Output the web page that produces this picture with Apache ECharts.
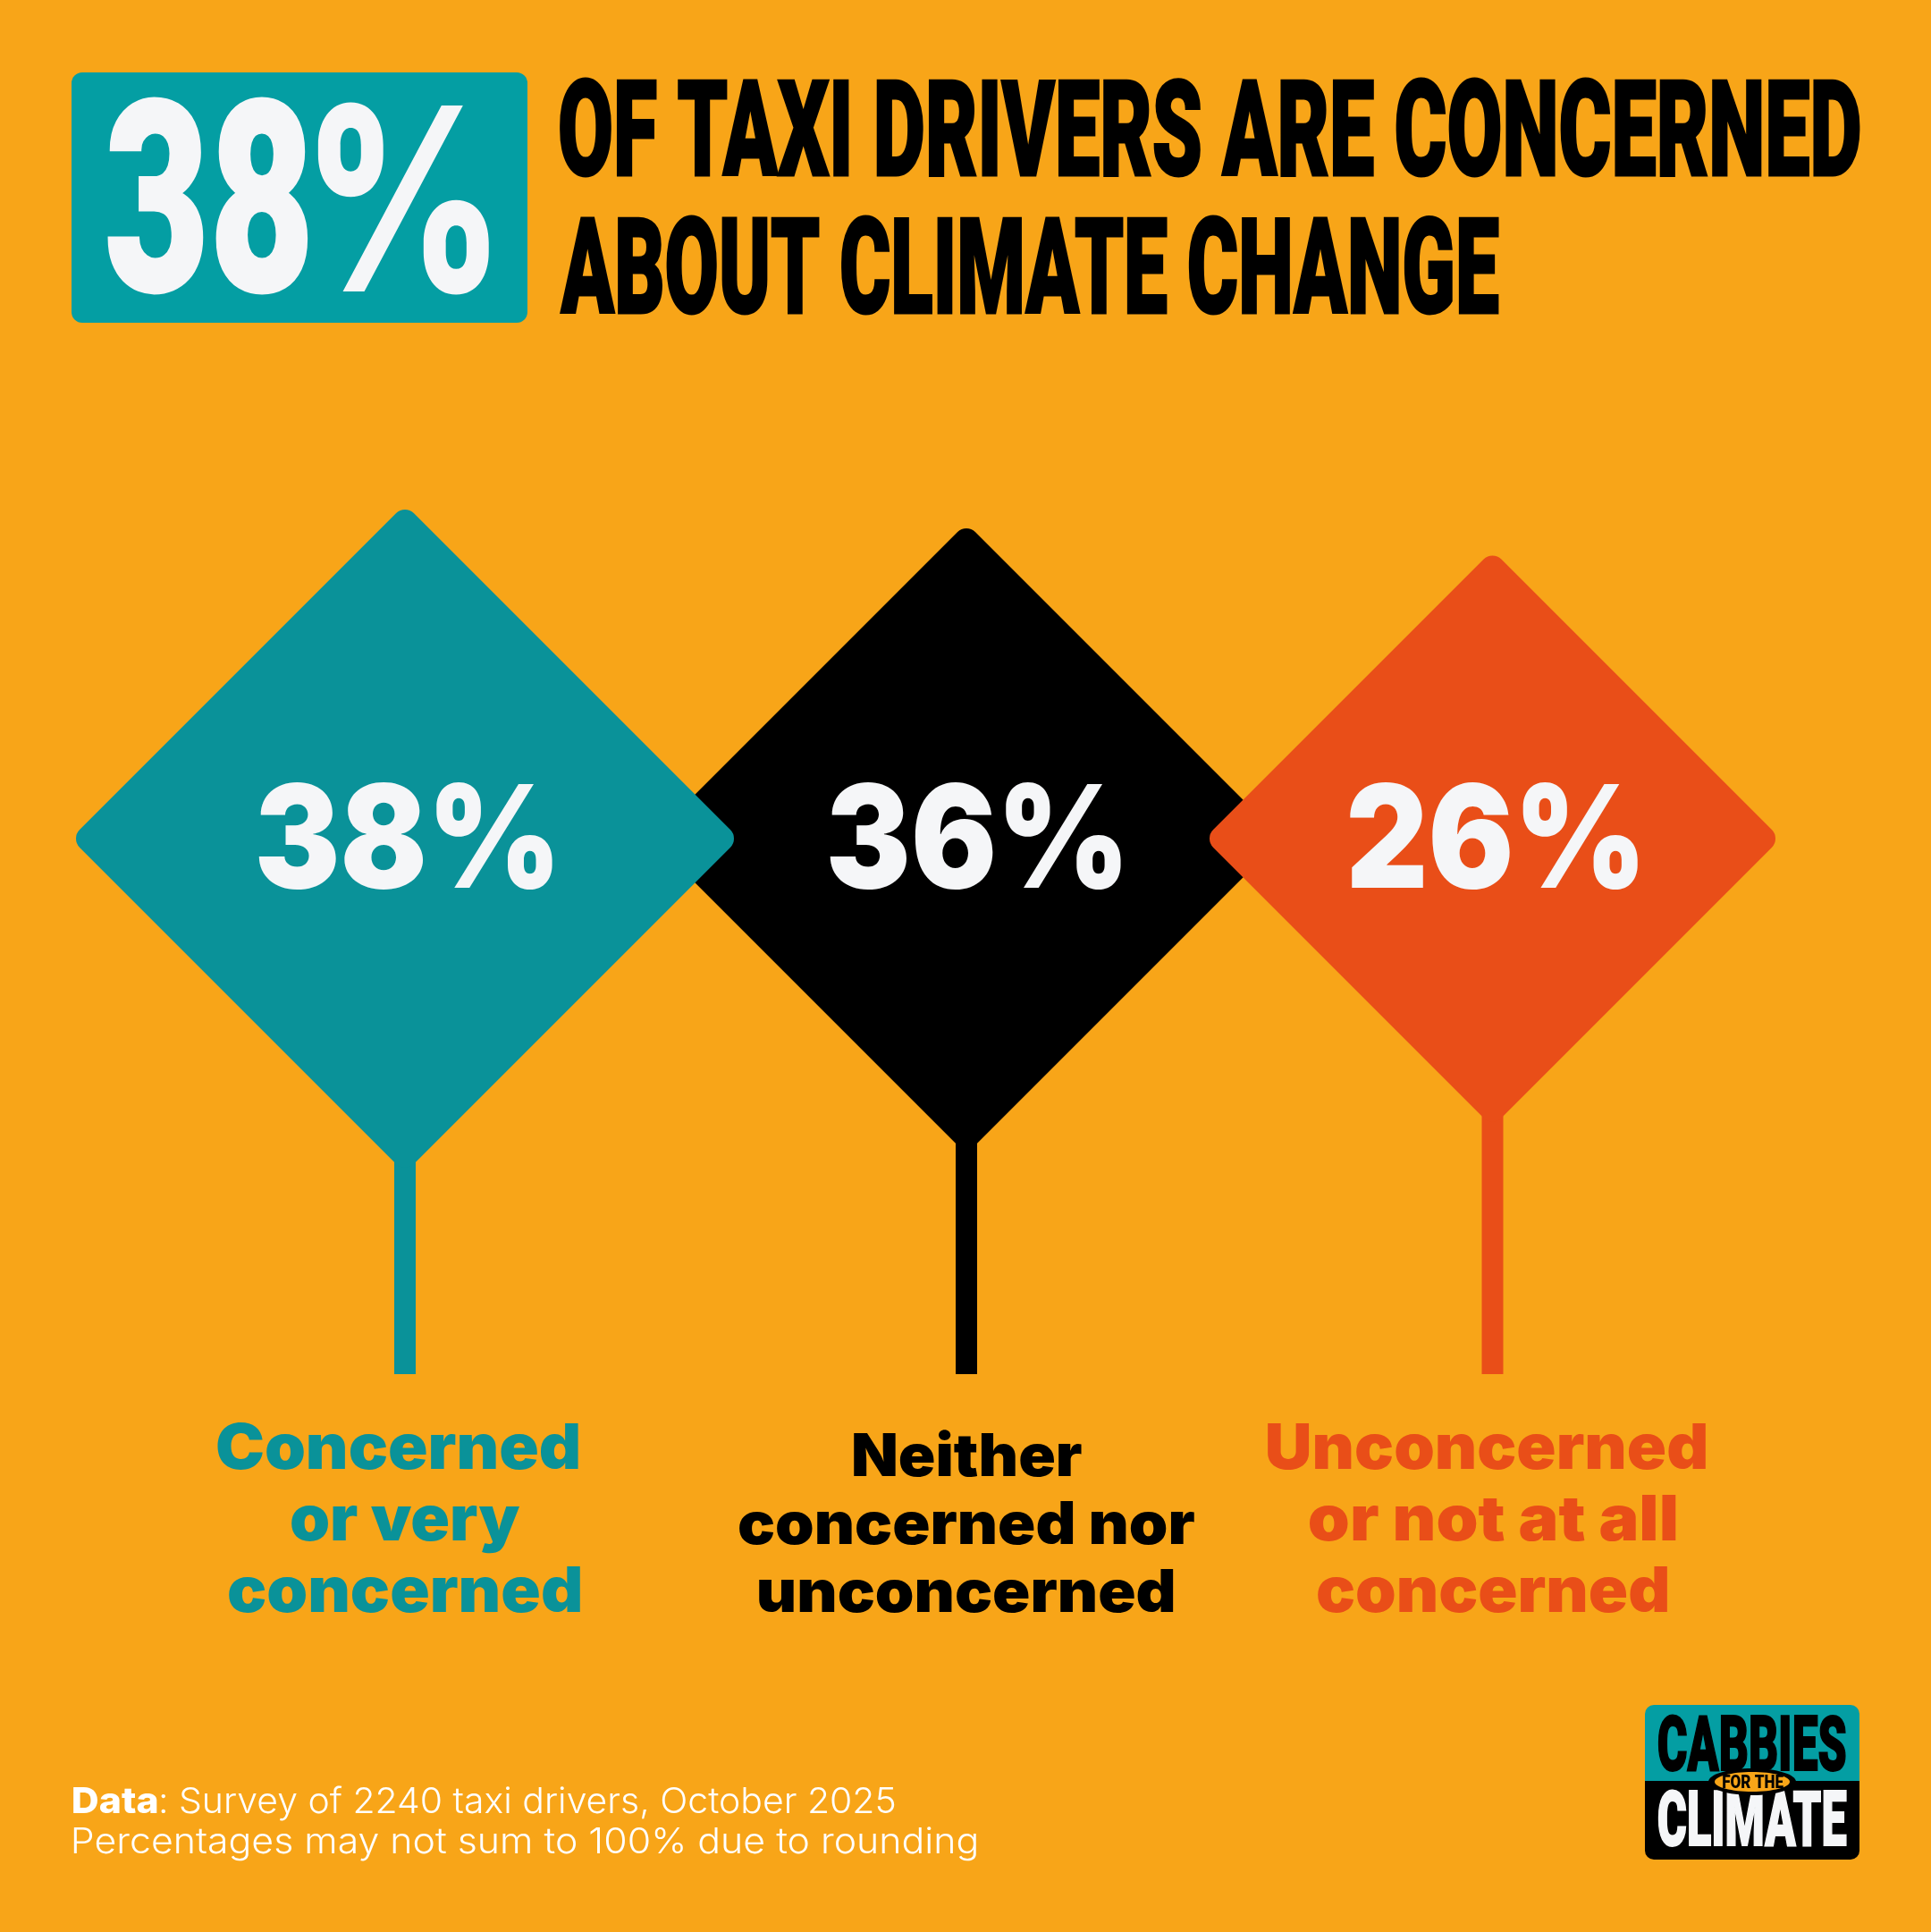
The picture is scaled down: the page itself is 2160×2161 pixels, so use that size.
<!DOCTYPE html>
<html>
<head>
<meta charset="utf-8">
<title>Cabbies for the Climate</title>
<script src="https://cdn.jsdelivr.net/npm/echarts@6/dist/echarts.min.js"></script>
<style>
  html, body { margin: 0; padding: 0; background: #F8A518; }
  #chart { width: 2160px; height: 2161px; }
</style>
</head>
<body>
<div id="chart"></div>
<script>
// data
var categories = ['Concerned or very concerned', 'Neither concerned nor unconcerned', 'Unconcerned or not at all concerned'];
var categoryLines = [
  ['Concerned', 'or very', 'concerned'],
  ['Neither', 'concerned nor', 'unconcerned'],
  ['Unconcerned', 'or not at all', 'concerned']
];
var shares = [38, 36, 26];
var headlineShare = '38';
var titleLines = ['OF TAXI DRIVERS ARE CONCERNED', 'ABOUT CLIMATE CHANGE'];
var sourceLabel = 'Data';
var sourceText = ': Survey of 2240 taxi drivers, October 2025';
var noteText = 'Percentages may not sum to 100% due to rounding';

// colours
var ORANGE_BG = '#F8A518', TEAL_BOX = '#049EA3', WHITE = '#F5F6F8';
var signColors = ['#0A9299', '#000000', '#E94E18'];

// layout of the signs, in pixels
var signReach = [368, 347, 316.5];
var signNudge = [0, 20.5, 1.5];
var signLayer = [3, 1, 3];
var signCorner = 14;
var valueInk = [[289, 618], [928, 1254], [1510, 1832]];
var labelInk = [
  [[243, 647, 1643], [326, 582, 1723], [256, 649, 1803]],
  [[955, 1210, 1651], [826, 1336, 1727], [849, 1313, 1803]],
  [[1418, 1908, 1643], [1465, 1875, 1723], [1474, 1865, 1803]]
];
var DISPLAY_FONT = '900 {s}px Roboto';
var LABEL_FONT = '900 {s}px Inter';

var ruler = document.createElement('canvas').getContext('2d');

// squeeze a text so its ink runs from left to right, on the given baseline
function fitted(text, left, right, baseline, font, fill, strokeWidth) {
  ruler.font = font;
  ruler.textBaseline = 'middle';
  var m = ruler.measureText(text);
  var drop = ruler.measureText('H').actualBoundingBoxDescent;
  var ink = m.actualBoundingBoxLeft + m.actualBoundingBoxRight;
  var sx = (right - left) / ink;
  var style = { text: text, font: font, fill: fill, align: 'left', verticalAlign: 'middle' };
  if (strokeWidth) {
    style.stroke = fill;
    style.lineWidth = strokeWidth;
  }
  return { type: 'text', x: left + m.actualBoundingBoxLeft * sx, y: baseline - drop, scaleX: sx, z2: 10, style: style };
}

function sized(tpl, size) {
  return tpl.replace('{s}', size);
}

function renderSign(params, api) {
  var i = api.value(0);
  var top = api.coord([i, 100]);
  var base = api.coord([i, 0]);
  var cx = top[0] + signNudge[i];
  var cy = top[1];
  var side = (signReach[i] + signCorner * (Math.SQRT2 - 1)) * Math.SQRT2;
  var color = signColors[i];
  var kids = [
    { type: 'rect', z2: signLayer[i] - 1, shape: { x: cx - 12, y: cy, width: 24, height: base[1] - cy }, style: { fill: color } },
    { type: 'rect', z2: signLayer[i], x: cx, y: cy, rotation: Math.PI / 4,
      shape: { x: -side / 2, y: -side / 2, width: side, height: side, r: signCorner }, style: { fill: color } },
    fitted(api.value(1) + '%', valueInk[i][0], valueInk[i][1], 993, sized(LABEL_FONT, 160), WHITE)
  ];
  categoryLines[i].forEach(function (line, n) {
    var pos = labelInk[i][n];
    kids.push(fitted(line, pos[0], pos[1], pos[2], sized(LABEL_FONT, i === 1 ? 66 : 70), color));
  });
  return { type: 'group', children: kids };
}

var graphics = [
  { type: 'rect', shape: { x: 80, y: 81, width: 510, height: 280, r: 12 }, style: { fill: TEAL_BOX } },
  fitted(headlineShare, 120, 345, 325, sized(DISPLAY_FONT, 298), WHITE, 3),
  fitted('%', 355, 548, 326, sized('800 {s}px Inter', 286), WHITE),
  fitted(titleLines[0], 627, 2080, 196, sized(DISPLAY_FONT, 149), '#000', 3),
  fitted(titleLines[1], 627, 1676, 350, sized(DISPLAY_FONT, 149), '#000', 3),
  fitted(sourceLabel, 82, 176, 2028, sized('800 {s}px Inter', 40), '#FFFFFF'),
  fitted(sourceText, 180, 1001, 2028, sized('300 {s}px Inter', 40), '#FFFFFF'),
  fitted(noteText, 82, 1092, 2073, sized('300 {s}px Inter', 40), '#FFFFFF'),
  // logo
  { type: 'rect', shape: { x: 1840, y: 1907, width: 240, height: 86, r: [10, 10, 0, 0] }, style: { fill: TEAL_BOX } },
  { type: 'rect', shape: { x: 1840, y: 1992, width: 240, height: 88, r: [0, 0, 10, 10] }, style: { fill: '#000' } },
  fitted('CABBIES', 1855, 2064, 1981, sized(DISPLAY_FONT, 86), '#000', 2),
  fitted('CLIMATE', 1855, 2065, 2065, sized(DISPLAY_FONT, 86), WHITE, 2),
  { type: 'ellipse', z: 5, shape: { cx: 1960, cy: 1993, rx: 49, ry: 15 }, style: { fill: '#000' } },
  { type: 'ellipse', z: 5, shape: { cx: 1960, cy: 1993, rx: 42, ry: 11 }, style: { fill: ORANGE_BG } },
  Object.assign(fitted('FOR THE', 1927, 1995, 2000, sized(DISPLAY_FONT, 20), '#000'), { z: 6 })
];

var chart = echarts.init(document.getElementById('chart'), null, { renderer: 'canvas' });
chart.setOption({
  backgroundColor: ORANGE_BG,
  animation: false,
  grid: { left: 453, right: 492, top: 938, bottom: 624 },
  xAxis: { type: 'category', data: categories, boundaryGap: false, show: false },
  yAxis: { type: 'value', min: 0, max: 100, show: false },
  series: [{
    type: 'custom',
    renderItem: renderSign,
    clip: false,
    data: shares.map(function (v, i) { return [i, v]; })
  }],
  graphic: { elements: graphics }
});
</script>
</body>
</html>
